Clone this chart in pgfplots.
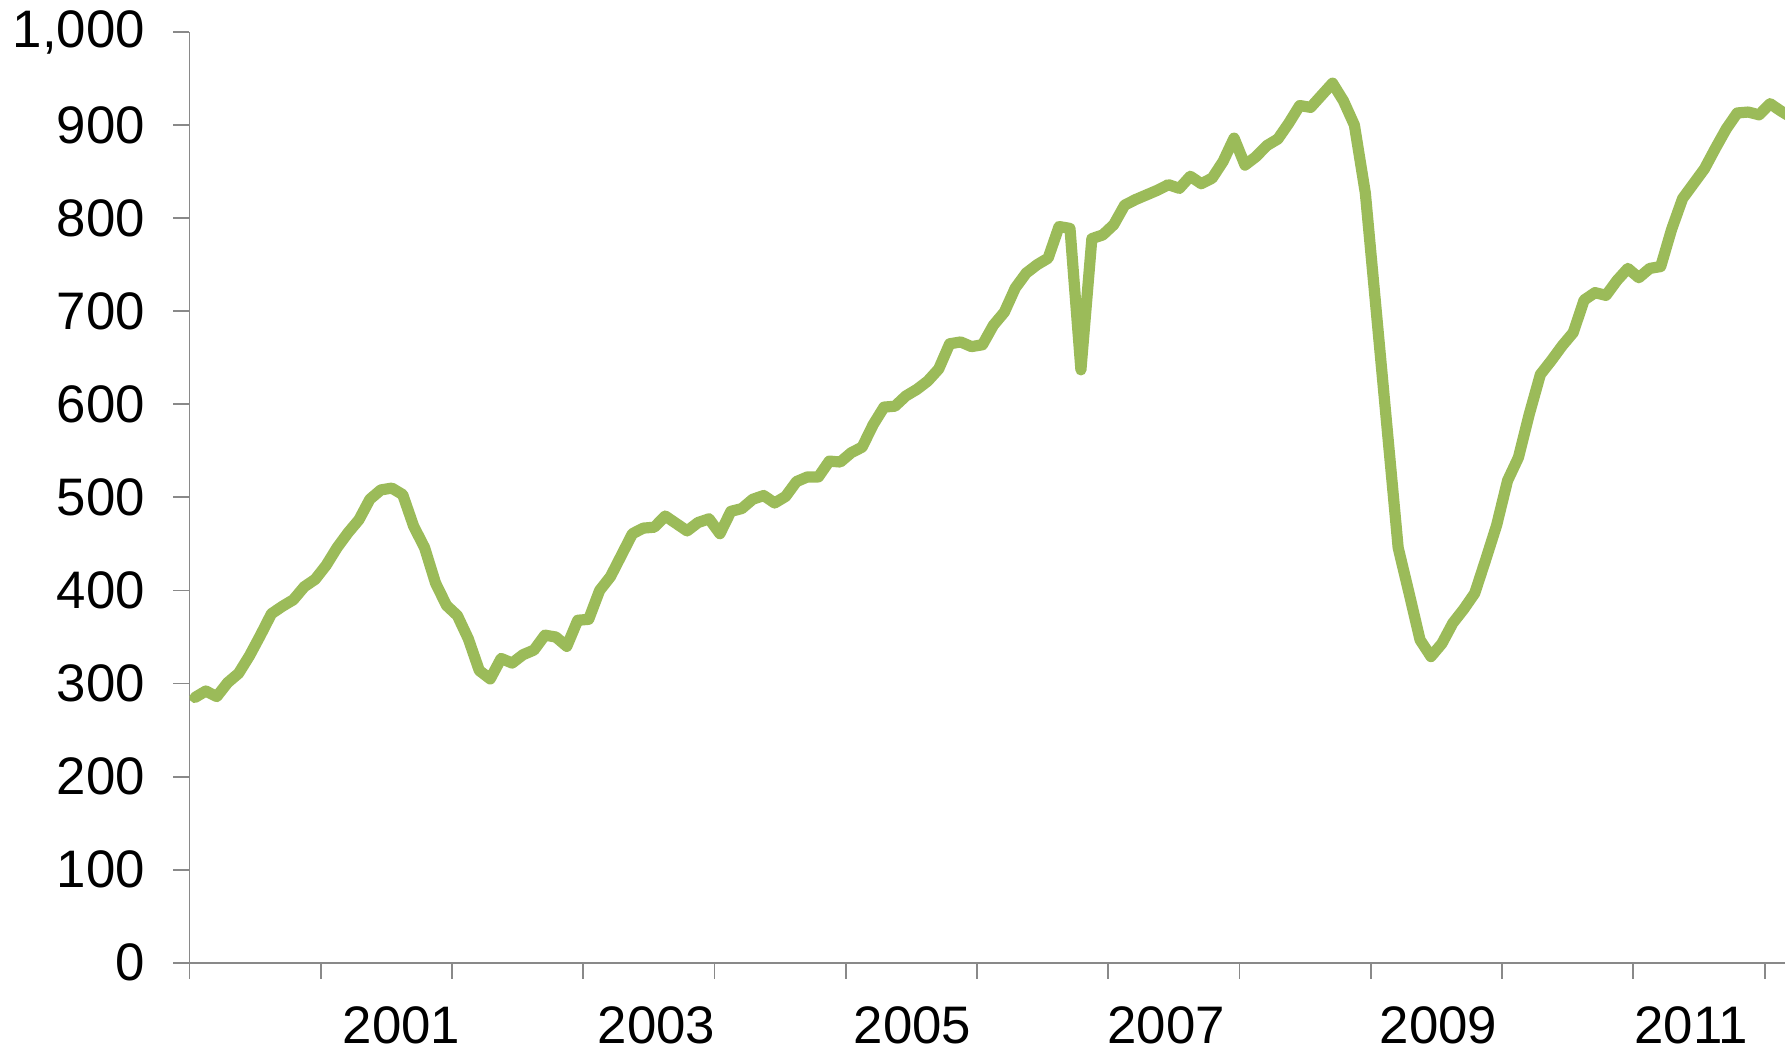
\documentclass[border=0pt]{standalone}
\usepackage{fontspec}
\setmainfont{Liberation Sans}
\usepackage{pgfplots}
\pgfplotsset{compat=1.18}
\definecolor{lineg}{HTML}{9BBB59}
\definecolor{axgray}{HTML}{898989}
\begin{document}
\begin{tikzpicture}
\begin{axis}[
  name=ax,
  at={(0,0)}, anchor=south west,
  scale only axis,
  width=402.0pt, height=232.7pt,
  xmin=0, xmax=147, ymin=0, ymax=1000,
  axis x line*=bottom, axis y line*=left,
  axis line style={axgray, line width=0.45pt},
  tick style={axgray, line width=0.45pt},
  tick align=outside,
  major tick length=4.0pt,
  xtick={0,12,...,144},
  xticklabels={},
  extra x ticks={19.4,42.7,66.1,89.3,114.2,137.3},
  extra x tick labels={2001,2003,2005,2007,2009,2011},
  extra x tick style={tick style={draw=none}, xticklabel style={yshift=-3.3pt}},
  ytick={0,100,...,1000},
  yticklabel style={xshift=-3.6pt},
  font=\fontsize{13.2pt}{15pt}\selectfont,
  ticklabel style={font=\fontsize{13.2pt}{15pt}\selectfont},
  /pgf/number format/assume math mode=true,
  /pgf/number format/1000 sep={,},
  every tick label/.append style={text=black},
]
\addplot[lineg, line width=2.8pt, line join=round, line cap=round] coordinates {
(0.5,285) (1.5,292) (2.5,286) (3.5,301) (4.5,311) (5.5,330) (6.5,352) (7.5,375)
(8.5,383) (9.5,390) (10.5,404) (11.5,412) (12.5,427) (13.5,446) (14.5,462) (15.5,476)
(16.5,498) (17.5,508) (18.5,510) (19.5,503) (20.5,469) (21.5,446) (22.5,408) (23.5,384)
(24.5,373) (25.5,348) (26.5,314) (27.5,305) (28.5,327) (29.5,322) (30.5,331) (31.5,336)
(32.5,352) (33.5,350) (34.5,340) (35.5,368) (36.5,369) (37.5,400) (38.5,415) (39.5,438)
(40.5,461) (41.5,467) (42.5,468) (43.5,480) (44.5,472) (45.5,464) (46.5,473) (47.5,477)
(48.5,461) (49.5,485) (50.5,488) (51.5,498) (52.5,502) (53.5,494) (54.5,501) (55.5,517)
(56.5,522) (57.5,522) (58.5,539) (59.5,538) (60.5,548) (61.5,554) (62.5,578) (63.5,597)
(64.5,598) (65.5,609) (66.5,616) (67.5,625) (68.5,638) (69.5,665) (70.5,667) (71.5,662)
(72.5,664) (73.5,685) (74.5,699) (75.5,725) (76.5,741) (77.5,750) (78.5,757) (79.5,791)
(80.5,789) (81.5,637) (82.5,778) (83.5,782) (84.5,793) (85.5,814) (86.5,820) (87.5,825)
(88.5,830) (89.5,836) (90.5,832) (91.5,845) (92.5,837) (93.5,843) (94.5,861) (95.5,886)
(96.5,857) (97.5,866) (98.5,878) (99.5,885) (100.5,902) (101.5,921) (102.5,919) (103.5,932)
(104.5,945) (105.5,926) (106.5,900) (107.5,827) (108.5,700) (109.5,573) (110.5,446) (111.5,397)
(112.5,347) (113.5,329) (114.5,343) (115.5,365) (116.5,380) (117.5,397) (118.5,433) (119.5,470)
(120.5,518) (121.5,543) (122.5,590) (123.5,632) (124.5,647) (125.5,663) (126.5,677) (127.5,712)
(128.5,720) (129.5,717) (130.5,733) (131.5,746) (132.5,736) (133.5,746) (134.5,748) (135.5,788)
(136.5,821) (137.5,837) (138.5,853) (139.5,875) (140.5,896) (141.5,913) (142.5,914) (143.5,911)
(144.5,923) (145.5,915) (146.5,908)
};
\end{axis}
\pgfresetboundingbox
\path[use as bounding box] ([shift={(-47.35pt,-21.6pt)}]ax.south west) rectangle ([shift={(398.9pt,240.7pt)}]ax.south west);
\end{tikzpicture}
\end{document}
